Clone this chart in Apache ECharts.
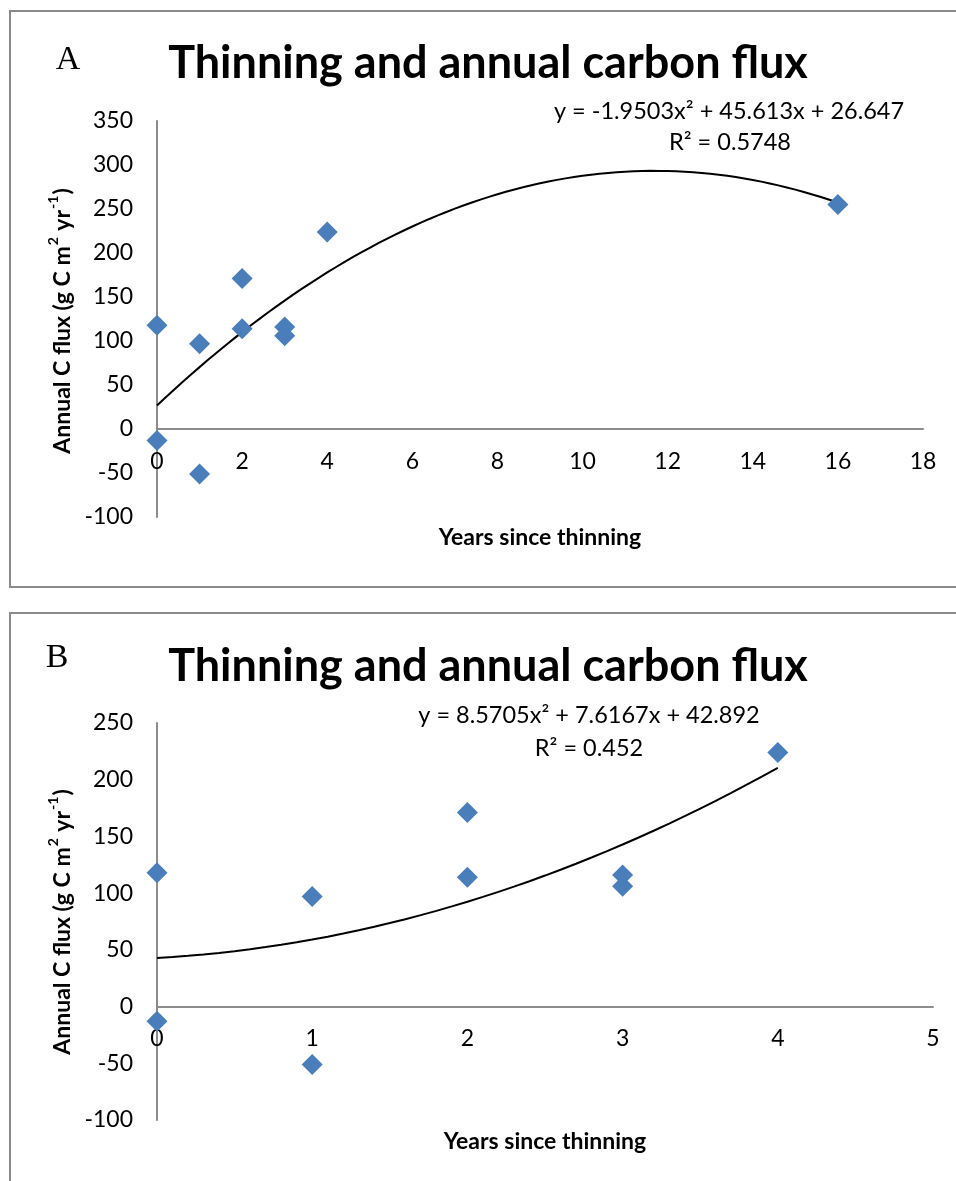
<!DOCTYPE html>
<html>
<head>
<meta charset="utf-8">
<script src="https://cdn.jsdelivr.net/npm/echarts@6/dist/echarts.min.js"></script>
<style>
html,body{margin:0;padding:0;background:#fff;}
#chart{width:956px;height:1181px;}
</style>
</head>
<body>
<div id="chart"></div>
<script>
// ---- Data ----
const titleText = 'Thinning and annual carbon flux';
const xTitle = 'Years since thinning';

// Panel A: all stands (0-16 years)
const yearsA = [0, 0, 1, 1, 2, 2, 3, 3, 4, 16];
const fluxA  = [118, -13, 97, -51, 171, 114, 116, 106, 224, 255];
const coefA  = [-1.9503, 45.613, 26.647]; // quadratic trend (a, b, c) as printed
const eqA    = 'y = -1.9503x² + 45.613x + 26.647';
const r2A    = 'R² = 0.5748';

// Panel B: stands 0-4 years
const yearsB = [0, 0, 1, 1, 2, 2, 3, 3, 4];
const fluxB  = [118, -13, 97, -51, 171, 114, 116, 106, 224];
const coefB  = [8.5705, 7.6167, 42.892];
const eqB    = 'y = 8.5705x² + 7.6167x + 42.892';
const r2B    = 'R² = 0.452';

// axis ranges
const yRangeA = [-100, 350], xRangeA = [0, 18], xStepA = 2;
const yRangeB = [-100, 250], xRangeB = [0, 5],  xStepB = 1;

// ---- helpers ----
function pts(xs, ys){ return xs.map((x,i)=>[x, ys[i]]); }
function trend(coef, x0, x1, step){
  const out = [];
  for (let x = x0; x <= x1 + 1e-9; x += step){
    out.push([x, coef[0]*x*x + coef[1]*x + coef[2]]);
  }
  return out;
}

const FONT = 'Lato, "Open Sans", "Noto Sans", sans-serif';
const AXC = '#8c8c8c';
const MARK = '#4A7EBB';

const gridA = {left:157, top:121, width:766, height:396};
const gridB = {left:157, top:723, width:776, height:397};

function yAxisCfg(idx, r){
  return {
    type:'value', gridIndex: idx, min: r[0], max: r[1], interval: 50,
    splitLine:{show:false},
    axisTick:{show:false},
    axisLine:{show:true, onZero:false, lineStyle:{color:AXC, width:2}},
    axisLabel:{color:'#000', fontSize:23, fontFamily:FONT, margin:24}
  };
}
// x axis drawn where y = 0 (labels included), as in the reference
function xAxisCfg(idx, r, step, yr, grid){
  const off = -grid.height * (0 - yr[0]) / (yr[1] - yr[0]);
  return {
    type:'value', gridIndex: idx, min: r[0], max: r[1], interval: step,
    position:'bottom', offset: off,
    splitLine:{show:false},
    axisTick:{show:false},
    axisLine:{show:true, onZero:false, lineStyle:{color:AXC, width:2}},
    axisLabel:{color:'#000', fontSize:23, fontFamily:FONT, margin:21}
  };
}

function yTitleStyle(){
  return {
    text: '{n|Annual C flux (g C m}{s|2}{n| yr}{s|-1}{n|)}',
    textAlign:'center', textVerticalAlign:'middle',
    rich: {
      n: {fontSize:23, fontWeight:'bold', fontFamily:FONT, fill:'#000', color:'#000', lineHeight:28, verticalAlign:'bottom'},
      s: {fontSize:14, fontWeight:'bold', fontFamily:FONT, fill:'#000', color:'#000', lineHeight:28, verticalAlign:'top', padding:[0,1,12,1]}
    }
  };
}

function txt(x, y, text, size, weight, family){
  return {
    type:'text', x:x, y:y,
    style: {text:text, fontSize:size, fontWeight:weight||'normal', fontFamily:family||FONT,
            fill:'#000', textAlign:'center', textVerticalAlign:'middle'}
  };
}
const SERIF = '"Liberation Serif", "Times New Roman", serif';

const chart = echarts.init(document.getElementById('chart'), null, {renderer:'canvas'});
chart.setOption({
  animation:false,
  backgroundColor:'#fff',
  grid:[gridA, gridB],
  xAxis:[ xAxisCfg(0, xRangeA, xStepA, yRangeA, gridA), xAxisCfg(1, xRangeB, xStepB, yRangeB, gridB) ],
  yAxis:[ yAxisCfg(0, yRangeA), yAxisCfg(1, yRangeB) ],
  series:[
    {type:'line', xAxisIndex:0, yAxisIndex:0, data: trend(coefA, 0, 16, 0.2),
     showSymbol:false, lineStyle:{color:'#000', width:2}, z:2, silent:true},
    {type:'scatter', xAxisIndex:0, yAxisIndex:0, data: pts(yearsA, fluxA),
     symbol:'diamond', symbolSize:21, itemStyle:{color:MARK, opacity:1}, z:3},
    {type:'line', xAxisIndex:1, yAxisIndex:1, data: trend(coefB, 0, 4, 0.1),
     showSymbol:false, lineStyle:{color:'#000', width:2}, z:2, silent:true},
    {type:'scatter', xAxisIndex:1, yAxisIndex:1, data: pts(yearsB, fluxB),
     symbol:'diamond', symbolSize:21, itemStyle:{color:MARK, opacity:1}, z:3}
  ],
  graphic:[
    // panel frames
    {type:'rect', shape:{x:10, y:11, width:960, height:576}, style:{fill:null, stroke:'#8a8a8a', lineWidth:2}, z:-1},
    {type:'rect', shape:{x:10, y:613, width:960, height:600}, style:{fill:null, stroke:'#8a8a8a', lineWidth:2}, z:-1},
    // panel A texts
    txt(68, 60, 'A', 34, 'normal', SERIF),
    txt(488, 63, titleText, 45, 'bold'),
    txt(729, 111, eqA, 23.5),
    txt(730, 142, r2A, 23.5),
    txt(540, 538, xTitle, 23, 'bold'),
    {type:'text', x:60, y:321, rotation:Math.PI/2, style:yTitleStyle()},
    // panel B texts
    txt(57, 658, 'B', 34, 'normal', SERIF),
    txt(488, 666, titleText, 45, 'bold'),
    txt(589, 715, eqB, 23.5),
    txt(589, 748, r2B, 23.5),
    txt(545, 1142, xTitle, 23, 'bold'),
    {type:'text', x:60, y:922, rotation:Math.PI/2, style:yTitleStyle()}
  ]
});
</script>
</body>
</html>
